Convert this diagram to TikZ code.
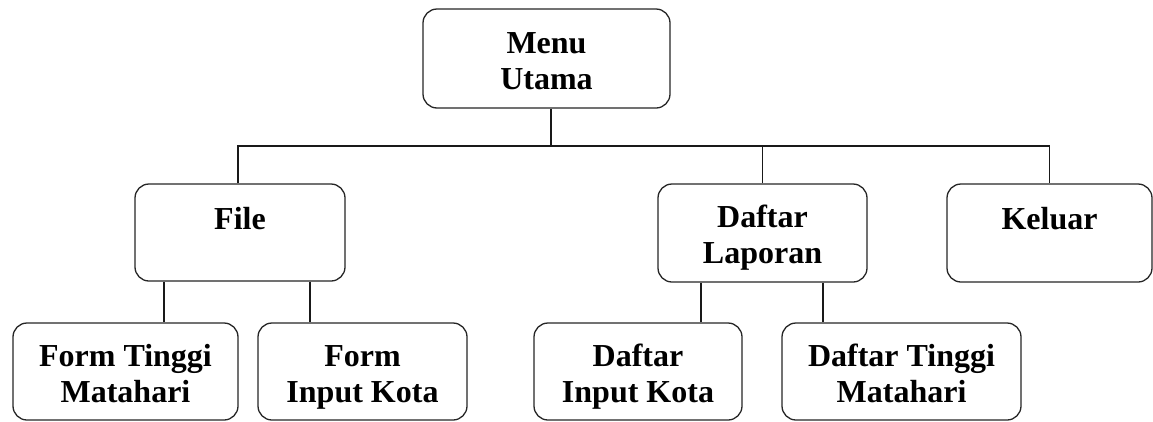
\documentclass[tikz,border=0pt]{standalone}
\usepackage{fontspec}
\setmainfont{Liberation Serif}
% fixed baselines, whatever the ascenders and descenders of each line
\newcommand\twoline[2]{\rule{0pt}{25pt}\smash{#1}\\\smash{#2}}
\newcommand\oneline[1]{\rule{0pt}{29pt}\smash{#1}\\\mbox{}}
\begin{document}
\begin{tikzpicture}[x=1pt,y=-1pt,
  menubox/.style={draw=black!85, line width=1.3pt, rounded corners=14pt,
    fill=white, inner sep=0pt, align=center,
    font=\fontsize{32}{36}\selectfont\bfseries},
  link/.style={draw=black!90, line width=1.3pt}]
  \useasboundingbox (0,0) rectangle (1153,421);

  % root
  \node[menubox, minimum width=247pt, minimum height=99pt] (menu) at (546.5,58.5) {\twoline{Menu}{Utama}};

  % second level
  \node[menubox, minimum width=210pt, minimum height=97pt] (file) at (240,232.5) {\oneline{File}};
  \node[menubox, minimum width=209pt, minimum height=98pt] (lap) at (762.5,233) {\twoline{Daftar}{Laporan}};
  \node[menubox, minimum width=205pt, minimum height=98pt] (kel) at (1049.5,233) {\oneline{Keluar}};

  % third level
  \node[menubox, minimum width=225pt, minimum height=97pt] (ftm) at (125.5,371.5) {\twoline{Form Tinggi}{Matahari}};
  \node[menubox, minimum width=209pt, minimum height=97pt] (fik) at (362.5,371.5) {\twoline{Form}{Input Kota}};
  \node[menubox, minimum width=208pt, minimum height=97pt] (dik) at (638,371.5) {\twoline{Daftar}{Input Kota}};
  \node[menubox, minimum width=239pt, minimum height=97pt] (dtm) at (901.5,371.5) {\twoline{Daftar Tinggi}{Matahari}};

  % connector positions
  \coordinate (bus) at (551,146);
  \coordinate (fa) at (164,300);
  \coordinate (fb) at (310,300);
  \coordinate (la) at (701,300);
  \coordinate (lb) at (823,300);

  % main bus
  \draw[link] (menu.south -| bus) -- (bus);
  \draw[link] (file.north -| 238,0) |- (kel.north |- bus) -- (kel.north);
  \draw[link] (lap.north) -- (lap.north |- bus);

  % branches below File and Daftar Laporan
  \draw[link] (file.south -| fa) -- (ftm.north -| fa);
  \draw[link] (file.south -| fb) -- (fik.north -| fb);
  \draw[link] (lap.south -| la) -- (dik.north -| la);
  \draw[link] (lap.south -| lb) -- (dtm.north -| lb);
\end{tikzpicture}
\end{document}
